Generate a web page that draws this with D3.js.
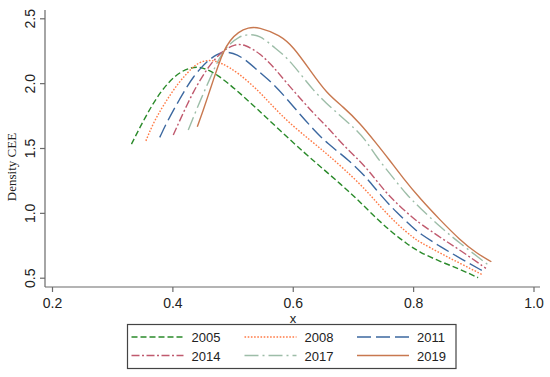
<!DOCTYPE html>
<html>
<head>
<meta charset="utf-8">
<script src="https://cdn.jsdelivr.net/npm/d3@7"></script>
<style>
  body { margin: 0; background: #fff; }
  svg { display: block; font-family: "Liberation Sans", Arial, sans-serif; }
</style>
</head>
<body>
<svg id="chart" width="550" height="377"></svg>
<script>
// kernel density estimates of CEE, one curve per year (x, density)
const years = ["2005", "2008", "2011", "2014", "2017", "2019"]

const d2005 = [[0.332,1.53],[0.355,1.74],[0.379,1.93],[0.407,2.075],[0.432,2.125],[0.449,2.125],[0.474,2.07],[0.507,1.945],
  [0.54,1.805],[0.58,1.63],[0.62,1.46],[0.65,1.34],[0.68,1.22],[0.706,1.11],[0.734,0.98],[0.762,0.86],[0.79,0.76],
  [0.811,0.695],[0.845,0.625],[0.878,0.565],[0.908,0.50]]
const d2008 = [[0.356,1.555],[0.368,1.69],[0.382,1.805],[0.396,1.908],[0.41,2.0],[0.424,2.075],[0.4375,2.14],[0.451,2.172],
  [0.465,2.177],[0.48,2.16],[0.51,2.08],[0.5455,1.93],[0.568,1.815],[0.595,1.69],[0.629,1.56],[0.656,1.458],[0.684,1.343],
  [0.717,1.2],[0.745,1.05],[0.775,0.905],[0.80,0.81],[0.811,0.775],[0.845,0.69],[0.878,0.61],[0.914,0.526]]
const d2011 = [[0.379,1.582],[0.39,1.69],[0.4015,1.79],[0.4126,1.88],[0.424,1.97],[0.435,2.05],[0.449,2.126],[0.46,2.177],
  [0.474,2.222],[0.485,2.241],[0.50,2.235],[0.52,2.19],[0.5455,2.08],[0.568,1.995],[0.59,1.88],[0.612,1.76],[0.634,1.645],
  [0.656,1.54],[0.695,1.40],[0.723,1.27],[0.745,1.14],[0.773,1.0],[0.80,0.885],[0.811,0.84],[0.845,0.74],[0.878,0.65],[0.918,0.546]]
const d2014 = [[0.4015,1.60],[0.4126,1.715],[0.424,1.83],[0.435,1.933],[0.446,2.023],[0.46,2.126],[0.474,2.203],[0.487,2.26],
  [0.504,2.30],[0.52,2.30],[0.5455,2.23],[0.568,2.126],[0.59,2.0],[0.6175,1.856],[0.64,1.74],[0.662,1.64],[0.684,1.52],
  [0.712,1.40],[0.734,1.28],[0.756,1.15],[0.778,1.05],[0.80,0.96],[0.811,0.92],[0.845,0.81],[0.878,0.713],[0.921,0.572]]
const d2017 = [[0.4264,1.638],[0.4375,1.767],[0.449,1.894],[0.46,2.01],[0.471,2.126],[0.482,2.229],[0.496,2.306],[0.51,2.357],
  [0.525,2.377],[0.545,2.37],[0.568,2.28],[0.59,2.2],[0.612,2.075],[0.634,1.946],[0.656,1.843],[0.678,1.753],[0.70,1.663],
  [0.72,1.57],[0.739,1.43],[0.767,1.27],[0.789,1.14],[0.811,1.04],[0.845,0.89],[0.878,0.765],[0.925,0.598]]
const d2019 = [[0.4414,1.663],[0.4513,1.792],[0.4597,1.908],[0.468,2.023],[0.4763,2.139],[0.4846,2.241],[0.4957,2.331],
  [0.5095,2.395],[0.526,2.429],[0.5427,2.434],[0.5787,2.37],[0.601,2.28],[0.6286,2.10],[0.6563,1.921],[0.684,1.817],
  [0.712,1.69],[0.739,1.535],[0.7587,1.42],[0.7836,1.266],[0.811,1.112],[0.8445,0.946],[0.878,0.79],[0.9055,0.688],[0.930,0.623]]

const xTicks = [0.2, 0.4, 0.6, 0.8, 1.0]
const yTicks = [0.5, 1.0, 1.5, 2.0, 2.5]

const series = [
  { name: years[0], values: d2005, color: "#2a8a2a", dash: "6,3" },
  { name: years[1], values: d2008, color: "#ff7a45", dash: "1.6,1.6" },
  { name: years[2], values: d2011, color: "#3c68a0", dash: "14,5" },
  { name: years[3], values: d2014, color: "#c05a6e", dash: "8,2.5,2,2.5" },
  { name: years[4], values: d2017, color: "#9dbda8", dash: "14,4,2,4" },
  { name: years[5], values: d2019, color: "#c8784f", dash: null }
]

const svg = d3.select("#chart")
const axisColor = "#6a6a6a"

// scales map data -> pixels
let xScale = d3.scaleLinear().domain([0.2, 1.0]).range([52, 533.5])
let yScale = d3.scaleLinear().domain([0.5, 2.5]).range([277.7, 18.3])

// axis lines (drawn a bit longer than the tick range, like the original)
svg.append("line").attr("x1", 45).attr("x2", 45).attr("y1", 10).attr("y2", 287)
  .attr("stroke", axisColor).attr("stroke-width", 1.2)
svg.append("line").attr("x1", 45).attr("x2", 540).attr("y1", 287).attr("y2", 287)
  .attr("stroke", axisColor).attr("stroke-width", 1.2)

// y axis
let yAxis = d3.axisLeft(yScale).tickValues(yTicks).tickFormat(d3.format(".1f")).tickSize(5)
let gy = svg.append("g").attr("transform", "translate(45,0)").call(yAxis)
gy.select(".domain").remove()
gy.selectAll(".tick line").attr("stroke", axisColor).attr("stroke-width", 1.2)
gy.selectAll(".tick text")
  .attr("x", null).attr("dy", null)
  .attr("transform", "translate(-10,0) rotate(-90)")
  .attr("text-anchor", "middle")
  .attr("font-size", 14).attr("fill", "#222")
  .attr("font-family", "Liberation Sans, Arial, sans-serif")

// x axis
let xAxis = d3.axisBottom(xScale).tickValues(xTicks).tickFormat(d3.format(".1f")).tickSize(5)
let gx = svg.append("g").attr("transform", "translate(0,287)").call(xAxis)
gx.select(".domain").remove()
gx.selectAll(".tick line").attr("stroke", axisColor).attr("stroke-width", 1.2)
gx.selectAll(".tick text")
  .attr("y", 21).attr("dy", null)
  .attr("font-size", 14).attr("fill", "#222")
  .attr("font-family", "Liberation Sans, Arial, sans-serif")

// axis titles
svg.append("text").attr("x", 293).attr("y", 322.5).attr("text-anchor", "middle")
  .attr("font-size", 13).attr("fill", "#222").text("x")
svg.append("text").attr("transform", "translate(16,167) rotate(-90)").attr("text-anchor", "middle")
  .attr("font-family", "Liberation Serif, Times New Roman, serif")
  .attr("font-size", 13).attr("fill", "#222").text("Density CEE")

// density curves
let line = d3.line()
  .x(d => xScale(d[0]))
  .y(d => yScale(d[1]))
  .curve(d3.curveBasis)

svg.append("g").selectAll("path").data(series).join("path")
  .attr("d", d => line(d.values))
  .attr("fill", "none")
  .attr("stroke", d => d.color)
  .attr("stroke-width", 1.4)
  .attr("stroke-dasharray", d => d.dash)

// legend
svg.append("rect").attr("x", 127.5).attr("y", 324.5).attr("width", 328.5).attr("height", 44)
  .attr("fill", "#fff").attr("stroke", "#444").attr("stroke-width", 1.2)

let legendCols = [131.5, 244.5, 357]
let legendRows = [337, 355.5]
let lg = svg.append("g").selectAll("g").data(series).join("g")
  .attr("transform", (d, i) => `translate(${legendCols[i % 3]},${legendRows[Math.floor(i / 3)]})`)
lg.append("line").attr("x1", 0).attr("x2", 52).attr("y1", 0).attr("y2", 0)
  .attr("stroke", d => d.color).attr("stroke-width", 1.4)
  .attr("stroke-dasharray", d => d.dash)
lg.append("text").attr("x", 60).attr("y", 5).attr("font-size", 13).attr("fill", "#222")
  .text(d => d.name)
</script>
</body>
</html>
